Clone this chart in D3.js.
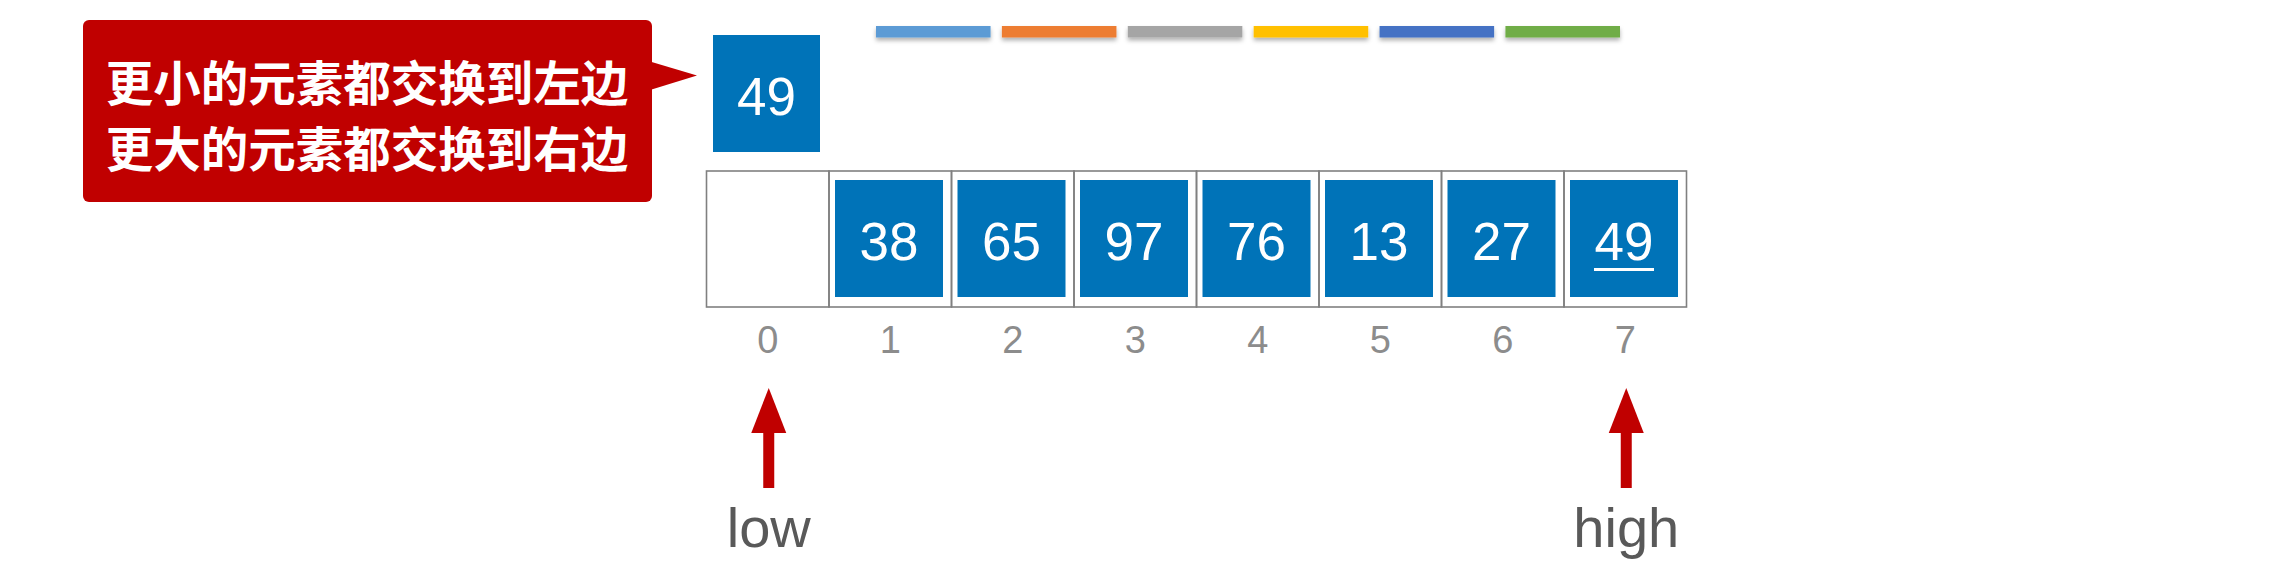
<!DOCTYPE html>
<html>
<head>
<meta charset="utf-8">
<script src="https://cdn.jsdelivr.net/npm/d3@7/dist/d3.min.js"></script>
<style>
  html, body { margin: 0; padding: 0; background: #ffffff; }
  svg { display: block; }
</style>
</head>
<body>
<script>
// ---- data ----
const indices = [0, 1, 2, 3, 4, 5, 6, 7];
const values = [null, 38, 65, 97, 76, 13, 27, 49];
const pivotValue = 49;
const pivotIndex = 7;            // position of the underlined element
const calloutLines = ["更小的元素都交换到左边", "更大的元素都交换到右边"];
const barColors = ["#5B9BD5", "#ED7D31", "#A5A5A5", "#FFC000", "#4472C4", "#70AD47"];
const pointerLabels = ["low", "high"];
const pointerIndices = [0, 7];

// ---- layout ----
const W = 2296, H = 566;
const svg = d3.select("body").append("svg").attr("width", W).attr("height", H);

const defs = svg.append("defs");
const f = defs.append("filter").attr("id", "shadow").attr("x", "-10%").attr("y", "-50%").attr("width", "120%").attr("height", "250%");
f.append("feDropShadow").attr("dx", 0).attr("dy", 3).attr("stdDeviation", 2).attr("flood-color", "#000").attr("flood-opacity", 0.3);

const x = d3.scaleBand().domain(indices).range([706.5, 1686.5]).padding(0);
const bw = x.bandwidth();

const blue = "#0073B8";
const numFont = "'Helvetica Neue', Helvetica, 'Liberation Sans', Arial, sans-serif";

// colour bars at top
const xBars = d3.scaleBand().domain(d3.range(barColors.length)).range([876, 1620]).paddingInner(0.09);
svg.append("g").selectAll("rect").data(barColors).join("rect")
  .attr("x", (d, i) => xBars(i)).attr("y", 26)
  .attr("width", xBars.bandwidth()).attr("height", 11.5)
  .attr("fill", d => d).attr("filter", "url(#shadow)");

// callout
const cg = svg.append("g");
cg.append("rect").attr("x", 83).attr("y", 20).attr("width", 569).attr("height", 182)
  .attr("rx", 6).attr("fill", "#C00000");
cg.append("path").attr("d", d3.line()([[650, 61.5], [697, 75.5], [650, 90]]))
  .attr("fill", "#C00000");
cg.selectAll("text").data(calloutLines).join("text")
  .attr("x", 367).attr("y", (d, i) => 80 + i * 66)
  .attr("text-anchor", "middle").attr("dominant-baseline", "central")
  .attr("font-family", "'Noto Sans CJK SC', sans-serif").attr("font-weight", 700)
  .attr("font-size", 47.5).attr("fill", "#ffffff")
  .text(d => d);

// pivot box
const pg = svg.append("g");
pg.append("rect").attr("x", x(0) + 6.5).attr("y", 35).attr("width", 107).attr("height", 117).attr("fill", blue);
pg.append("text").attr("x", x(0) + 6.5 + 53.5).attr("y", 115)
  .attr("text-anchor", "middle").attr("font-family", numFont)
  .attr("font-size", 53).attr("fill", "#fff").text(pivotValue);

// array frame
const frame = svg.append("g");
frame.selectAll("rect").data(indices).join("rect")
  .attr("x", d => x(d)).attr("y", 171).attr("width", bw).attr("height", 136)
  .attr("fill", "none").attr("stroke", "#808080").attr("stroke-width", 1.6);

// element boxes
const cells = svg.append("g").selectAll("g").data(indices.filter(i => values[i] !== null)).join("g");
cells.append("rect")
  .attr("x", d => x(d) + 6).attr("y", 180).attr("width", 108).attr("height", 117)
  .attr("fill", blue);
cells.append("text")
  .attr("x", d => x(d) + 60).attr("y", 260)
  .attr("text-anchor", "middle").attr("font-family", numFont)
  .attr("font-size", 53).attr("fill", "#fff")
  .text(d => values[d]);
// underline for pivot element
svg.append("line")
  .attr("x1", x(pivotIndex) + 30).attr("x2", x(pivotIndex) + 90)
  .attr("y1", 269.5).attr("y2", 269.5)
  .attr("stroke", "#fff").attr("stroke-width", 3);

// index labels
svg.append("g").selectAll("text").data(indices).join("text")
  .attr("x", d => x(d) + bw / 2).attr("y", 353)
  .attr("text-anchor", "middle").attr("font-family", numFont)
  .attr("font-size", 38).attr("fill", "#8C8C8C")
  .text(d => d);

// pointers
const pt = svg.append("g").selectAll("g").data(pointerIndices).join("g")
  .attr("transform", d => `translate(${x(d) + bw / 2 + 1},0)`);
pt.append("rect").attr("x", -5.5).attr("y", 430).attr("width", 11).attr("height", 58).attr("fill", "#C00000");
pt.append("path").attr("d", d3.line()([[0, 388], [-17.5, 433], [17.5, 433]])).attr("fill", "#C00000");
pt.append("text").attr("x", 0).attr("y", 547)
  .attr("text-anchor", "middle").attr("font-family", numFont)
  .attr("font-size", 56).attr("fill", "#595959")
  .text((d, i) => pointerLabels[i]);
</script>
</body>
</html>
